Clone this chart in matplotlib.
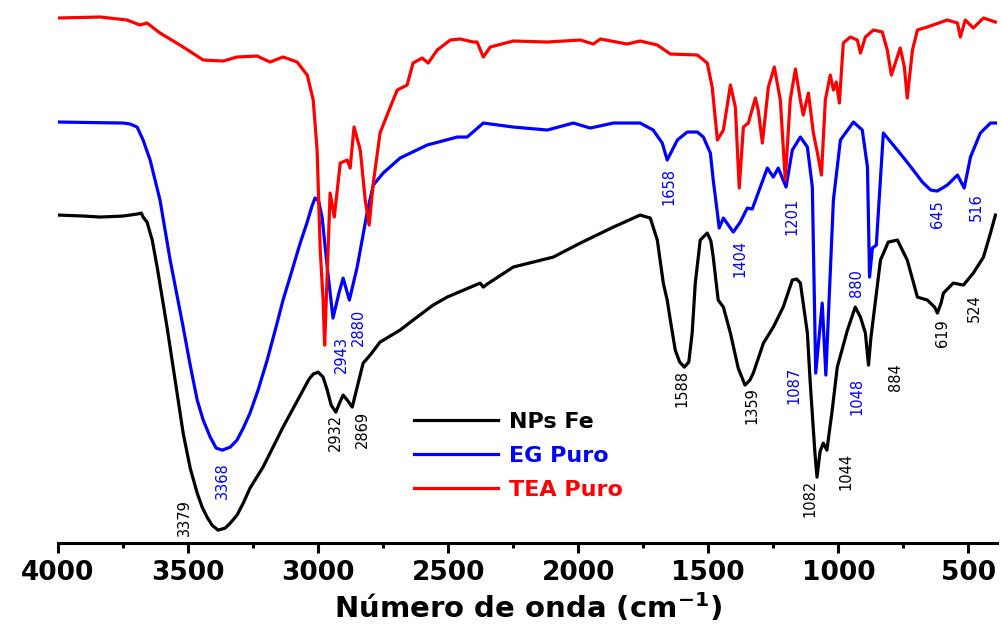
import matplotlib.pyplot as plt
from matplotlib.ticker import MultipleLocator

# Espectros FTIR (transmitancia em unidades arbitrarias, curvas deslocadas)
wn_np = [4000, 3900, 3838, 3750, 3696, 3680, 3673, 3658, 3638, 3619, 3581, 3519, 3492, 3465,
         3446, 3427, 3408, 3385, 3358, 3338, 3312, 3288, 3262, 3212, 3185, 3135, 3058, 3035,
         3019, 3000, 2981, 2965, 2950, 2932, 2918, 2904, 2885, 2869, 2850, 2827, 2800, 2762,
         2685, 2635, 2558, 2504, 2377, 2365, 2350, 2250, 2096, 1992, 1865, 1762, 1723, 1696,
         1673, 1658, 1646, 1627, 1610, 1592, 1575, 1562, 1550, 1531, 1504, 1490, 1481, 1462,
         1442, 1415, 1385, 1359, 1340, 1327, 1288, 1250, 1212, 1177, 1160, 1146, 1119, 1108,
         1090, 1082, 1070, 1058, 1044, 1025, 1004, 965, 935, 915, 896, 884, 875, 865, 838, 808,
         773, 735, 696, 658, 630, 619, 605, 596, 558, 519, 481, 442, 415, 396]
t_np = [328, 327, 326, 327, 329, 330, 326, 321, 303, 276, 216, 110, 75, 50,
        36, 26, 18, 13, 15, 20, 28, 40, 55, 76, 90, 116, 153, 164,
        169, 171, 166, 153, 138, 131, 140, 148, 142, 136, 156, 180, 188, 201,
        213, 223, 238, 246, 260, 256, 259, 276, 286, 300, 316, 328, 325, 303,
        260, 243, 223, 193, 181, 176, 181, 210, 260, 303, 310, 302, 286, 243,
        236, 210, 175, 158, 163, 170, 200, 216, 236, 263, 264, 260, 210, 160,
        90, 66, 92, 100, 93, 130, 176, 213, 236, 226, 210, 178, 205, 226, 283, 301,
        303, 283, 246, 243, 236, 230, 240, 250, 260, 258, 270, 286, 310, 328]

wn_eg = [4000, 3750, 3723, 3696, 3673, 3646, 3608, 3569, 3519, 3492, 3465, 3442, 3415, 3392,
         3368, 3338, 3312, 3288, 3262, 3231, 3196, 3165, 3135, 3100, 3069, 3042, 3025, 3012,
         2998, 2985, 2965, 2943, 2920, 2904, 2880, 2850, 2812, 2788, 2750, 2685, 2581,
         2465, 2427, 2365, 2250, 2119, 2019, 1954, 1865, 1762, 1712, 1677, 1658, 1619, 1581,
         1542, 1519, 1492, 1481, 1465, 1458, 1442, 1404, 1377, 1350, 1331, 1300, 1273, 1250,
         1231, 1201, 1177, 1146, 1119, 1100, 1087, 1062, 1048, 1019, 992, 942, 908, 888, 880,
         869, 854, 827, 773, 742, 712, 677, 645, 620, 600, 581, 542, 516, 492, 454, 415, 396]
t_eg = [421, 420, 419, 416, 403, 383, 343, 283, 216, 178, 143, 123, 106, 95,
        93, 96, 103, 115, 130, 153, 183, 213, 243, 273, 300, 321, 336, 345,
        342, 326, 276, 225, 250, 265, 243, 276, 330, 358, 370, 385, 398,
        406, 406, 420, 416, 413, 420, 415, 420, 420, 413, 400, 383, 403, 411,
        411, 406, 390, 363, 330, 315, 325, 311, 321, 335, 334, 356, 375, 366,
        375, 356, 393, 406, 396, 356, 170, 240, 168, 343, 403, 421, 413, 376, 266,
        295, 298, 410, 393, 383, 373, 361, 353, 352, 355, 358, 368, 355, 386, 410, 420, 420]

wn_tea = [4000, 3838, 3735, 3685, 3658, 3608, 3519, 3442, 3365, 3312, 3235, 3185, 3135, 3081,
          3042, 3019, 3004, 2992, 2981, 2975, 2954, 2938, 2915, 2888, 2877, 2862, 2838, 2819,
          2804, 2788, 2762, 2735, 2696, 2658, 2635, 2600, 2577, 2542, 2492, 2454, 2404, 2389,
          2365, 2338, 2250, 2119, 1992, 1942, 1915, 1812, 1762, 1696, 1646, 1542, 1504, 1485,
          1465, 1442, 1415, 1396, 1381, 1365, 1346, 1319, 1308, 1292, 1269, 1246, 1223, 1204,
          1185, 1165, 1146, 1135, 1115, 1096, 1081, 1065, 1050, 1031, 1019, 1008, 996, 981,
          954, 927, 915, 896, 865, 831, 812, 796, 781, 762, 746, 735, 715, 696, 658, 581,
          542, 531, 512, 481, 442, 396]
t_tea = [525, 526, 523, 518, 520, 510, 496, 483, 482, 486, 487, 481, 486, 481,
         468, 443, 393, 293, 243, 198, 350, 326, 380, 383, 375, 416, 393, 343,
         318, 360, 410, 428, 453, 458, 480, 485, 480, 493, 503, 504, 501, 501,
         486, 496, 502, 501, 503, 499, 504, 499, 502, 498, 489, 488, 480, 456,
         403, 413, 458, 436, 355, 416, 420, 445, 433, 400, 456, 476, 443, 363,
         443, 474, 443, 428, 450, 410, 391, 368, 443, 468, 453, 461, 440, 500,
         506, 503, 490, 506, 513, 511, 493, 468, 480, 495, 476, 445, 493, 513, 516, 523,
         520, 506, 523, 515, 525, 521]

# rotulos dos picos: (texto, posicao em cm-1, altura, cor)
peak_labels = [
    ('3379', 3515, 26, 'black'), ('2932', 2935, 111, 'black'), ('2869', 2831, 114, 'black'),
    ('1588', 1600, 155, 'black'), ('1359', 1331, 138, 'black'), ('1082', 1108, 45, 'black'),
    ('1044', 969, 72, 'black'), ('884', 781, 166, 'black'), ('619', 600, 210, 'black'),
    ('524', 477, 235, 'black'),
    ('3368', 3369, 63, 'blue'), ('2943', 2912, 189, 'blue'), ('2880', 2846, 216, 'blue'),
    ('1658', 1650, 357, 'blue'), ('1404', 1377, 285, 'blue'), ('1201', 1177, 327, 'blue'),
    ('1087', 1169, 158, 'blue'), ('1048', 927, 147, 'blue'), ('880', 931, 260, 'blue'),
    ('645', 619, 329, 'blue'), ('516', 469, 336, 'blue'),
]

plt.rcParams['mathtext.default'] = 'bf'

fig = plt.figure(figsize=(10.01, 6.36), dpi=100)
ax = fig.add_axes([0.058, 0.146, 0.938, 0.854])

lw = 2.3
ax.plot(wn_np, t_np, color='black', lw=lw, label='NPs Fe', solid_joinstyle='round')
ax.plot(wn_eg, t_eg, color='blue', lw=lw, label='EG Puro', solid_joinstyle='round')
ax.plot(wn_tea, t_tea, color='red', lw=lw, label='TEA Puro', solid_joinstyle='round')

for txt, x, y, c in peak_labels:
    ax.text(x, y, txt, rotation=90, ha='center', va='center', color=c, fontsize=10.5)

ax.set_xlim(4000, 390)
ax.set_ylim(0, 543)

for s in ['left', 'right', 'top']:
    ax.spines[s].set_visible(False)
ax.spines['bottom'].set_linewidth(2.2)
ax.set_yticks([])

ax.xaxis.set_major_locator(MultipleLocator(500))
ax.xaxis.set_minor_locator(MultipleLocator(250))
ax.tick_params(axis='x', which='major', direction='out', length=7, width=2.2, pad=5,
               labelsize=19)
ax.tick_params(axis='x', which='minor', direction='out', length=3.5, width=2.2)
for lab in ax.get_xticklabels():
    lab.set_fontweight('bold')

ax.set_xlabel('Número de onda (cm$^{-1}$)', fontsize=21, fontweight='bold', labelpad=4)

leg = ax.legend(loc='upper left', bbox_to_anchor=(0.367, 0.262), frameon=False,
                handlelength=3.8, handletextpad=0.5, labelspacing=0.62,
                borderpad=0, labelcolor='linecolor',
                prop={'weight': 'bold', 'size': 16})

fig.savefig('out.png', dpi=100)
